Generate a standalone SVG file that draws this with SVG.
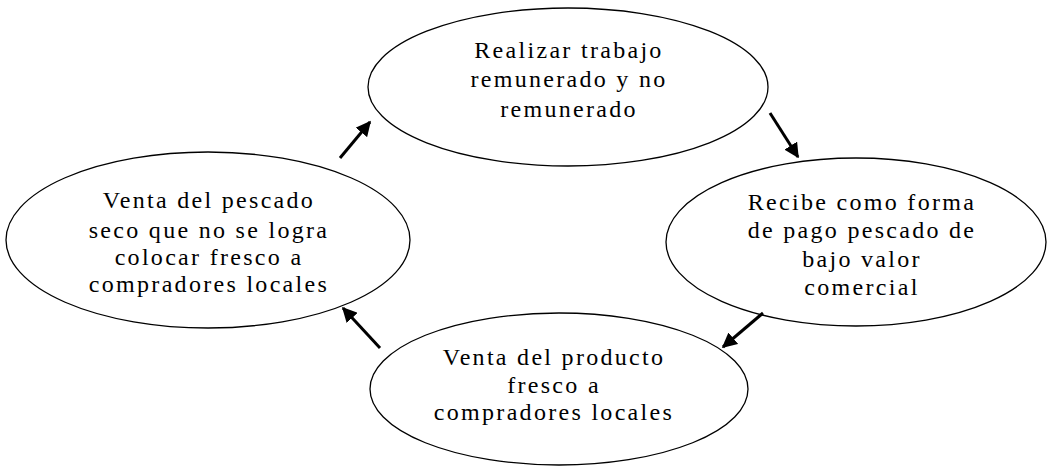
<svg xmlns="http://www.w3.org/2000/svg" width="1050" height="470" viewBox="0 0 1050 470">
<style>
.n ellipse{fill:#fff;stroke:#000;stroke-width:1.3}
.n text{font-family:"Liberation Serif","Times New Roman",serif;font-size:24px;letter-spacing:2.3px;fill:#000;text-anchor:middle}
.c line{stroke:#000;stroke-width:3;marker-end:url(#ah)}
</style>
<defs>
<marker id="ah" viewBox="0 0 10 10" refX="9" refY="5" markerWidth="5" markerHeight="5" orient="auto" markerUnits="strokeWidth">
<path d="M0,0 L10,5 L0,10 Z" fill="#000"/>
</marker>
</defs>
<rect width="1050" height="470" fill="#fff"/>
<g id="node-top" class="n">
<ellipse cx="568" cy="87" rx="200" ry="79"/>
<text x="569" y="58">Realizar trabajo</text>
<text x="569" y="87">remunerado y no</text>
<text x="569" y="117">remunerado</text>
</g>
<g id="node-right" class="n">
<ellipse cx="856" cy="242" rx="190" ry="84"/>
<text x="862" y="210">Recibe como forma</text>
<text x="862" y="238">de pago pescado de</text>
<text x="862" y="267">bajo valor</text>
<text x="862" y="295">comercial</text>
</g>
<g id="node-bottom" class="n">
<ellipse cx="559" cy="389" rx="189" ry="76"/>
<text x="554" y="365">Venta del producto</text>
<text x="554" y="393">fresco a</text>
<text x="554" y="420">compradores locales</text>
</g>
<g id="node-left" class="n">
<ellipse cx="208" cy="240" rx="202" ry="88"/>
<text x="209" y="208">Venta del pescado</text>
<text x="209" y="238">seco que no se logra</text>
<text x="209" y="265">colocar fresco a</text>
<text x="209" y="292">compradores locales</text>
</g>
<g id="connectors" class="c">
<line x1="340" y1="158" x2="370" y2="122"/>
<line x1="770" y1="113" x2="798" y2="157"/>
<line x1="763" y1="313" x2="723" y2="347"/>
<line x1="380" y1="348" x2="343" y2="308"/>
</g>
</svg>
